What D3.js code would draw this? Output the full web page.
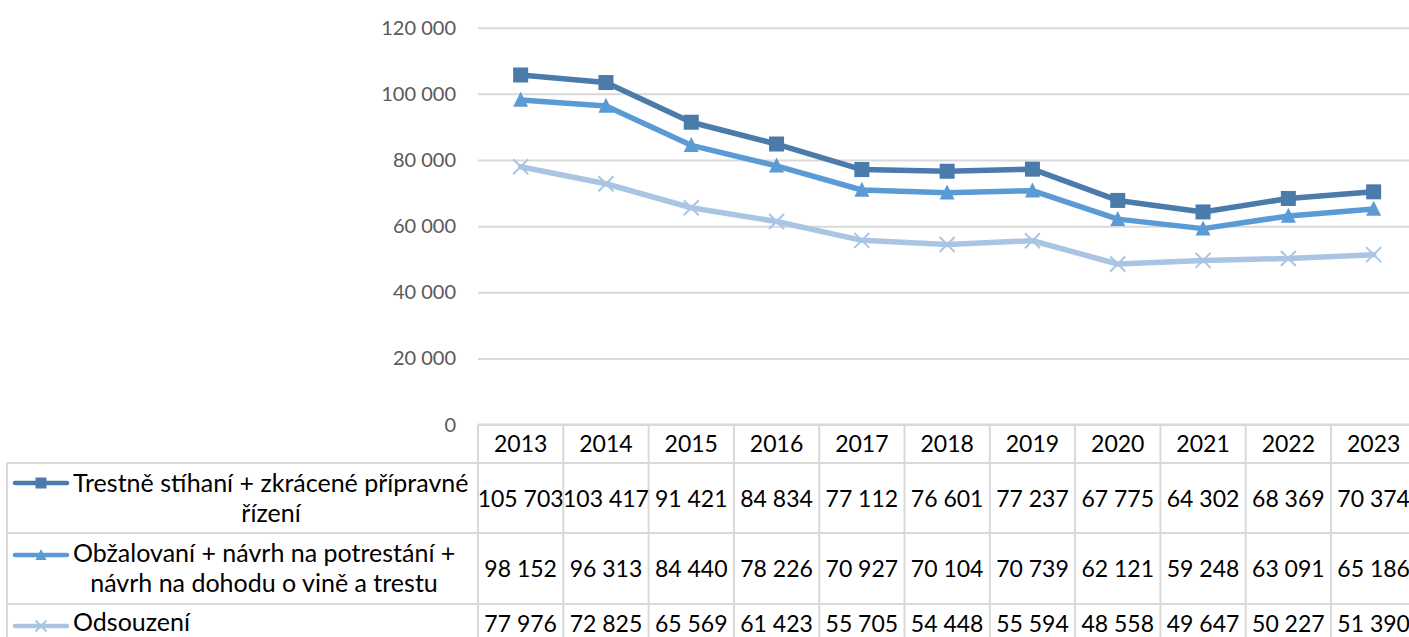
<!DOCTYPE html>
<html><head><meta charset="utf-8">
<script src="https://cdn.jsdelivr.net/npm/d3@7"></script>
<style>
html,body{margin:0;padding:0;background:#fff;overflow:hidden}
text{font-family:Lato,"Open Sans",sans-serif}
</style>
</head><body>
<svg id="c" width="1409" height="637"></svg>
<script>
// ---- data ----
const years = ["2013","2014","2015","2016","2017","2018","2019","2020","2021","2022","2023"];
const seriesLabels = [
  ["Trestně stíhaní + zkrácené přípravné", "řízení"],
  ["Obžalovaní + návrh na potrestání +", "návrh na dohodu o vině a trestu"],
  ["Odsouzení"]
];
const trestneStihani = [105703,103417,91421,84834,77112,76601,77237,67775,64302,68369,70374];
const obzalovani     = [98152,96313,84440,78226,70927,70104,70739,62121,59248,63091,65186];
const odsouzeni      = [77976,72825,65569,61423,55705,54448,55594,48558,49647,50227,51390];
const yTicks = [0,20000,40000,60000,80000,100000,120000];

// ---- styling / layout ----
const W = 1409, H = 637;
const colors = ["#4a7bab", "#5b9bd5", "#aac4e4"];
const markers = ["square", "triangle", "x"];
const gridColor = "#d9d9d9";
const plotLeft = 478, colW = 85.3;
const yTop = 27.7, yZero = 424.6;
const tableLeft = 7;
const rowLines = [463, 533, 604];
const rowValueBaselines = [507, 577, 632];
const legendFirstBaselines = [492, 562, 631];
const legendLineGap = 30;
const legendSecondCenters = [271, 264];
const legendKeyY = [483, 555, 626];
const valueFont = "23px", legendFont = "25px", axisFont = "20px";

const loc = d3.formatLocale({decimal: ",", thousands: " ", grouping: [3], currency: ["", ""]});
const fmt = loc.format(",.0f");

const svg = d3.select("#c");
const x = d3.scaleBand().domain(years).range([plotLeft, plotLeft + colW * years.length]);
const y = d3.scaleLinear().domain([0, 120000]).range([yZero, yTop]);

// gridlines + y labels
const yAxis = d3.axisLeft(y).tickValues(yTicks).tickFormat(fmt)
  .tickSize(-(W - plotLeft)).tickPadding(22);
const ga = svg.append("g").attr("transform", `translate(${plotLeft},0)`).call(yAxis);
ga.select(".domain").remove();
ga.selectAll(".tick line").attr("stroke", gridColor).attr("stroke-width", 2);
ga.selectAll(".tick text").attr("fill", "#595959").style("font-size", axisFont)
  .style("font-family", "Lato, sans-serif");

// ---- table grid ----
const tableRight = plotLeft + colW * years.length;
const tg = svg.append("g").attr("stroke", gridColor).attr("stroke-width", 2);
tg.append("line").attr("x1", plotLeft).attr("x2", tableRight).attr("y1", yZero).attr("y2", yZero);
rowLines.forEach(ly => tg.append("line").attr("x1", tableLeft).attr("x2", tableRight).attr("y1", ly).attr("y2", ly));
tg.append("line").attr("x1", tableLeft).attr("x2", tableLeft).attr("y1", rowLines[0]).attr("y2", H + 10);
years.forEach(yr => {
  const xx = x(yr);
  tg.append("line").attr("x1", xx).attr("x2", xx).attr("y1", yZero).attr("y2", H + 10);
});
tg.append("line").attr("x1", tableRight).attr("x2", tableRight).attr("y1", yZero).attr("y2", H + 10);

// header years
svg.append("g").selectAll("text").data(years).join("text")
  .attr("x", d => x(d) + x.bandwidth() / 2).attr("y", 452)
  .attr("text-anchor", "middle").style("font-size", valueFont).attr("fill", "#000")
  .text(d => d);

const allSeries = [trestneStihani, obzalovani, odsouzeni];

// table values
allSeries.forEach((vals, si) => {
  svg.append("g").selectAll("text").data(vals).join("text")
    .attr("x", (d, i) => x(years[i]) + x.bandwidth() / 2)
    .attr("y", rowValueBaselines[si])
    .attr("text-anchor", "middle").style("font-size", valueFont).attr("fill", "#000")
    .text(d => fmt(d));
});

function drawMarker(g, type, color, s) {
  if (type === "square") {
    g.append("rect").attr("x", -s / 2).attr("y", -s / 2).attr("width", s).attr("height", s).attr("fill", color);
  } else if (type === "triangle") {
    g.append("path").attr("d", `M0,${-s * 0.55}L${s / 2},${s * 0.45}L${-s / 2},${s * 0.45}Z`).attr("fill", color);
  } else {
    const h = s / 2;
    g.append("path").attr("d", `M${-h},${-h}L${h},${h}M${-h},${h}L${h},${-h}`)
      .attr("stroke", color).attr("stroke-width", 2).attr("fill", "none");
  }
}

// lines
const line = d3.line().x((d, i) => x(years[i]) + x.bandwidth() / 2).y(d => y(d));
allSeries.forEach((vals, si) => {
  svg.append("path").datum(vals).attr("d", line).attr("fill", "none")
    .attr("stroke", colors[si]).attr("stroke-width", 5.5)
    .attr("stroke-linejoin", "round").attr("stroke-linecap", "round");
});
allSeries.forEach((vals, si) => {
  vals.forEach((v, i) => {
    const g = svg.append("g").attr("transform", `translate(${x(years[i]) + x.bandwidth() / 2},${y(v)})`);
    drawMarker(g, markers[si], colors[si], 15);
  });
});

// legend column
seriesLabels.forEach((lines, si) => {
  const ky = legendKeyY[si];
  svg.append("line").attr("x1", 15).attr("x2", 67).attr("y1", ky).attr("y2", ky)
    .attr("stroke", colors[si]).attr("stroke-width", 4.5).attr("stroke-linecap", "round");
  const g = svg.append("g").attr("transform", `translate(41,${ky})`);
  drawMarker(g, markers[si], colors[si], 11);
  svg.append("text").attr("x", 73).attr("y", legendFirstBaselines[si])
    .style("font-size", legendFont).attr("fill", "#000").text(lines[0]);
  if (lines[1]) {
    svg.append("text").attr("x", legendSecondCenters[si]).attr("y", legendFirstBaselines[si] + legendLineGap)
      .attr("text-anchor", "middle").style("font-size", legendFont).attr("fill", "#000").text(lines[1]);
  }
});
</script>
</body></html>
